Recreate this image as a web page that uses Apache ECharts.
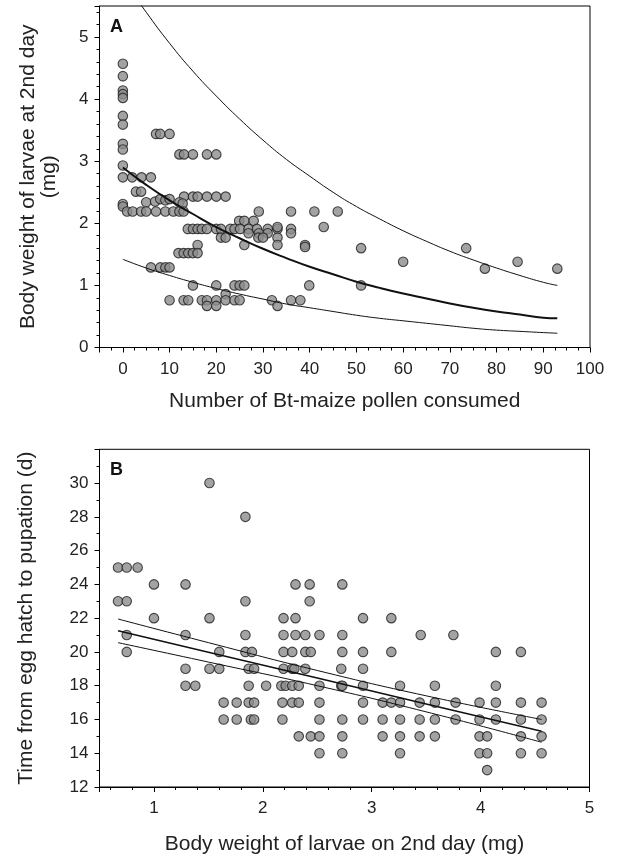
<!DOCTYPE html>
<html>
<head>
<meta charset="utf-8">
<script src="https://cdn.jsdelivr.net/npm/echarts@6/dist/echarts.min.js"></script>
<style>html,body{margin:0;padding:0;background:#fff;}#c{width:620px;height:856px;}</style>
</head>
<body>
<div id="c"></div>
<script>
// Panel A: pollen consumed vs body weight at 2nd day
const aPollen = [
  0,0,0,0,0,0,0,0,0,0,0,0,0,
  7.1,8.0,10.0,
  12.1,13.1,15,18,20,
  2,4,6,
  2.8,3.9,
  13.1,15,16,18,20,22,
  5,6.9,8,9.1,10,12.1,12.8,
  0.9,2.1,3.9,5.0,7.1,9.1,10.8,12.1,13.0,29.1,36,41,46,
  24.9,26,28,
  13.9,15,16,16.9,18,20,21,23,23.9,25.1,26.9,28.7,31,33.1,36,
  26.9,29.1,31,36,
  33.1,43,
  21,22,29,30,33.1,
  16,26,33.1,39,39,
  11.9,13,14,15,16,
  6,8,9.1,10,
  15,20,23.9,25,26,39.9,
  22,
  10,13,14,16.9,18,20,22,23.9,25,31.9,36,38,
  18,20,33.1,
  51,51,60,73.5,77.5,84.5,93
];
const aWeight = [
  4.57,4.37,4.14,4.08,4.02,3.73,3.59,3.28,3.19,2.93,2.74,2.31,2.27,
  3.44,3.44,3.44,
  3.11,3.11,3.11,3.11,3.11,
  2.74,2.74,2.74,
  2.51,2.51,
  2.43,2.43,2.43,2.43,2.43,2.43,
  2.34,2.35,2.39,2.37,2.39,2.34,2.32,
  2.19,2.19,2.19,2.19,2.19,2.19,2.19,2.19,2.19,2.19,2.19,2.19,2.19,
  2.04,2.04,2.04,
  1.91,1.91,1.91,1.91,1.91,1.91,1.91,1.91,1.91,1.91,1.91,1.91,1.91,1.91,1.91,
  1.84,1.84,1.84,1.84,
  1.94,1.94,
  1.77,1.77,1.77,1.77,1.77,
  1.65,1.65,1.65,1.65,1.62,
  1.52,1.52,1.52,1.52,1.52,
  1.29,1.29,1.29,1.29,
  1.0,1.0,1.0,1.0,1.0,1.0,
  0.86,
  0.76,0.76,0.76,0.76,0.76,0.76,0.76,0.76,0.76,0.76,0.76,0.76,
  0.67,0.67,0.67,
  1.6,1.0,1.38,1.6,1.27,1.38,1.27
];
// Panel A fitted curve and bounds (read at sample points)
const curveX =   [0,    5,    10,   15,   20,   25,   30,   35,   40,   45,   50,   55,   60,   65,   70,   75,   80,   85,   90,   93];
const aUpper =   [5.94, 5.40, 4.90, 4.45, 4.05, 3.68, 3.34, 3.03, 2.76, 2.50, 2.27, 2.07, 1.88, 1.71, 1.55, 1.41, 1.28, 1.16, 1.05, 1.00];
const aMiddle =  [2.90, 2.62, 2.37, 2.15, 1.94, 1.76, 1.59, 1.44, 1.30, 1.18, 1.06, 0.96, 0.87, 0.79, 0.71, 0.64, 0.58, 0.53, 0.48, 0.47];
const aLower =   [1.42, 1.28, 1.16, 1.05, 0.95, 0.86, 0.78, 0.70, 0.64, 0.58, 0.52, 0.47, 0.43, 0.39, 0.35, 0.31, 0.28, 0.26, 0.24, 0.23];

// Panel B: body weight vs development time
const bWeight = [
  1.51,
  1.84,
  0.67,0.75,0.85,
  1.0,1.29,2.30,2.43,2.73,
  0.67,0.75,1.84,2.43,
  1.0,1.51,2.19,2.30,2.92,3.18,
  0.75,1.29,1.84,2.19,2.30,2.39,2.52,2.73,3.45,3.75,
  0.75,1.60,1.84,1.90,2.19,2.27,2.39,2.44,2.73,2.92,3.18,4.14,4.37,
  1.29,1.51,1.60,1.87,1.92,2.19,2.27,2.29,2.39,2.72,2.92,
  1.29,1.38,1.87,2.03,2.17,2.21,2.27,2.33,2.52,2.72,2.73,2.92,3.26,3.58,4.14,
  1.64,1.76,1.87,1.92,2.18,2.27,2.33,2.52,2.92,3.10,3.18,3.26,3.44,3.58,3.77,3.99,4.14,4.37,4.56,
  1.64,1.76,1.89,1.92,2.18,2.52,2.73,2.92,3.10,3.26,3.44,3.58,3.77,3.99,4.14,4.37,4.56,
  2.33,2.44,2.52,2.73,3.10,3.26,3.44,3.58,3.99,4.06,4.37,4.56,
  2.52,2.73,3.26,3.99,4.06,4.37,4.56,
  4.06
];
const bDays = [
  30,
  28,
  25,25,25,
  24,24,24,24,24,
  23,23,23,23,
  22,22,22,22,22,22,
  21,21,21,21,21,21,21,21,21,21,
  20,20,20,20,20,20,20,20,20,20,20,20,20,
  19,19,19,19,19,19,19,19,19,19,19,
  18,18,18,18,18,18,18,18,18,18,18,18,18,18,18,
  17,17,17,17,17,17,17,17,17,17,17,17,17,17,17,17,17,17,17,
  16,16,16,16,16,16,16,16,16,16,16,16,16,16,16,16,16,
  15,15,15,15,15,15,15,15,15,15,15,15,
  14,14,14,14,14,14,14,
  13
];
// Panel B regression line and confidence bounds
const lineX =  [0.67, 1.5,   2.5,   3.5,   4.56];
const bUpper = [21.95, 20.55, 18.9, 17.4, 16.0];
const bMiddle =[21.25, 19.98, 18.45, 16.92, 15.3];
const bLower = [20.55, 19.4,  18.0, 16.45, 14.65];

const FONT = '"Liberation Sans", Arial, Helvetica, sans-serif';
const TXT = '#222';
const zip = (xs, ys) => xs.map((x, i) => [x, ys[i]]);

const chart = echarts.init(document.getElementById('c'), null, {renderer: 'canvas'});

function xAxisCfg(gridIndex, min, max, split, minorSplit, name, gap) {
  return {
    type: 'value', gridIndex, min, max, splitNumber: split,
    name, nameLocation: 'middle', nameGap: gap,
    nameTextStyle: {fontFamily: FONT, fontSize: 21, color: TXT},
    axisLine: {show: true, onZero: false, lineStyle: {color: '#000', width: 1}},
    axisTick: {show: true, inside: false, length: 5, lineStyle: {color: '#000'}},
    minorTick: {show: true, splitNumber: minorSplit, length: 3, lineStyle: {color: '#000'}},
    splitLine: {show: false}, minorSplitLine: {show: false},
    axisLabel: {fontFamily: FONT, fontSize: 17, color: TXT, margin: 13,
      showMinLabel: true, showMaxLabel: true,
      formatter: v => (Math.abs(v - Math.round(v)) < 1e-9 && v >= min + 1e-9 ? String(Math.round(v)) : '')}
  };
}
function yAxisCfg(gridIndex, min, max, interval, minorSplit, name, gap) {
  return {
    type: 'value', gridIndex, min, max, interval,
    name, nameLocation: 'middle', nameGap: gap, nameRotate: 90,
    nameTextStyle: {fontFamily: FONT, fontSize: 21, color: TXT, lineHeight: 21},
    axisLine: {show: true, onZero: false, lineStyle: {color: '#000', width: 1}},
    axisTick: {show: true, inside: false, length: 5, lineStyle: {color: '#000'}},
    minorTick: {show: true, splitNumber: minorSplit, length: 3, lineStyle: {color: '#000'}},
    splitLine: {show: false}, minorSplitLine: {show: false},
    axisLabel: {fontFamily: FONT, fontSize: 17, color: TXT, margin: 11,
      formatter: v => (Math.abs(v - Math.round(v)) < 1e-9 && v <= max - 1e-9 ? String(Math.round(v)) : '')}
  };
}

const dot = {color: '#8c8c8c', borderColor: '#1e1e1e', borderWidth: 1.1};

chart.setOption({
  animation: false,
  backgroundColor: '#fff',
  grid: [
    {left: 99.5, right: 30, top: 6, height: 341.5, show: true, borderColor: '#000', borderWidth: 1, backgroundColor: 'transparent'},
    {left: 99.5, right: 30.5, top: 449.3, height: 340, show: true, borderColor: '#000', borderWidth: 1, backgroundColor: 'transparent'}
  ],
  xAxis: [
    xAxisCfg(0, -5, 100, 10, 4, 'Number of Bt-maize pollen consumed', 43),
    xAxisCfg(1, 0.5, 5, 5, 5, 'Body weight of larvae on 2nd day (mg)', 47)
  ],
  yAxis: [
    yAxisCfg(0, 0, 5.5, 1, 5, 'Body weight of larvae at 2nd day\n(mg)', 40),
    yAxisCfg(1, 12, 32, 2, 2, 'Time from egg hatch to pupation (d)', 63)
  ],
  graphic: [
    {type: 'text', left: 110, top: 18, style: {text: 'A', font: 'bold 18px ' + FONT, fill: '#111'}},
    {type: 'text', left: 110, top: 461, style: {text: 'B', font: 'bold 18px ' + FONT, fill: '#111'}}
  ],
  series: [
    {type: 'scatter', xAxisIndex: 0, yAxisIndex: 0, data: zip(aPollen, aWeight), symbolSize: 9.5, itemStyle: dot, z: 3},
    {type: 'line', xAxisIndex: 0, yAxisIndex: 0, data: zip(curveX, aUpper), smooth: true, symbol: 'none', clip: true, lineStyle: {color: '#111', width: 1}, z: 4},
    {type: 'line', xAxisIndex: 0, yAxisIndex: 0, data: zip(curveX, aMiddle), smooth: true, symbol: 'none', clip: true, lineStyle: {color: '#111', width: 2}, z: 4},
    {type: 'line', xAxisIndex: 0, yAxisIndex: 0, data: zip(curveX, aLower), smooth: true, symbol: 'none', clip: true, lineStyle: {color: '#111', width: 1}, z: 4},
    {type: 'scatter', xAxisIndex: 1, yAxisIndex: 1, data: zip(bWeight, bDays), symbolSize: 9.5, itemStyle: dot, z: 3},
    {type: 'line', xAxisIndex: 1, yAxisIndex: 1, data: zip(lineX, bUpper), smooth: true, symbol: 'none', lineStyle: {color: '#111', width: 1}, z: 4},
    {type: 'line', xAxisIndex: 1, yAxisIndex: 1, data: zip(lineX, bMiddle), smooth: false, symbol: 'none', lineStyle: {color: '#111', width: 1.6}, z: 4},
    {type: 'line', xAxisIndex: 1, yAxisIndex: 1, data: zip(lineX, bLower), smooth: true, symbol: 'none', lineStyle: {color: '#111', width: 1}, z: 4}
  ]
});
</script>
</body>
</html>
